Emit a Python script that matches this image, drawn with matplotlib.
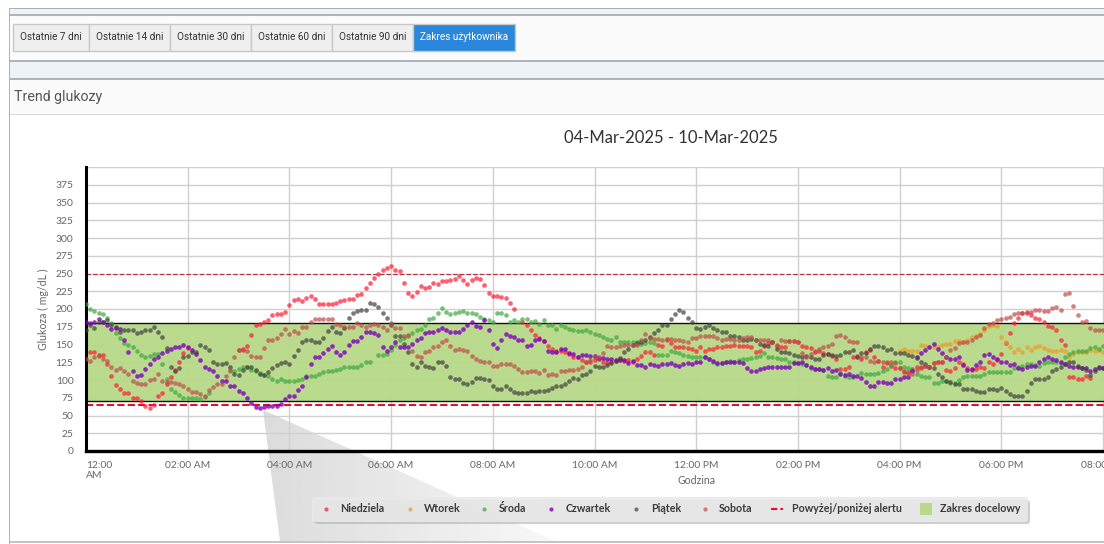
import numpy as np
import matplotlib
matplotlib.use('Agg')
import matplotlib.pyplot as plt
from matplotlib.patches import Rectangle, Polygon, FancyBboxPatch

nan = float('nan')

# glucose readings, 5 minute steps from midnight, one line per hour
niedziela = [
    nan, 140, 140, 135, 135, 122, 106, 93, 88, 81, 81, 74,
    74, 70, 64, 60, 65, 78, 81, 94, 104, 114, 125, 138,
    145, nan, nan, nan, nan, nan, nan, nan, nan, nan, nan, nan,
    142, 143, 148, 163, 177, 179, 182, 185, 192, 193, 193, 196,
    205, 213, 214, 211, 216, 219, 214, 207, 207, 207, 207, 208,
    211, 212, 214, 214, 220, 221, 230, 237, 244, 250, 255, 258,
    261, 255, 253, 236, 222, 219, 224, 233, 230, 231, 236, 235,
    240, 240, 241, 242, 247, 241, 235, 241, 243, 242, 234, 223,
    219, 219, 217, 215, 209, 200, nan, 182, 177, 171, 163, 159,
    155, 148, 144, 141, 141, 139, 137, 133, 132, 128, 125, 126,
    128, 130, 125, 124, 125, 127, 130, 127, 128, 126, 130, 134,
    140, 140, 135, 149, 148, 158, 152, 147, 146, 146, 145, 144,
    141, 147, 141, 144, 144, 146, 146, 148, 148, 149, 148, 148,
    148, 147, 140, 141, 148, 152, 153, 148, 147, 147, 155, 155,
    153, 148, 147, 145, 140, 141, 138, 136, 134, 130, 116, 115,
    119, 132, 134, 129, 139, 142, 132, 127, 119, 124, 120, 117,
    117, 111, 111, 116, 118, 119, 120, 118, 124, 125, 125, 114,
    113, 117, 125, 123, 117, 114, 115, 118, 117, 125, 123, 128,
    136, 152, 166, 180, 187, 194, 194, 192, 188, 186, 182, 176,
    175, 170, 156, 149, 104, 104, 102, 101, 105, 103, nan, nan,
    nan]

wtorek = [nan] * 192 + [
    141, 144, 141, 141, 141, 149, 148, 146, 146, 146, 149, 151,
    151, 155, 155, 154, 157, 161, 162, 165, 171, 176, 178, 176,
    160, 154, 146, 139, 143, 140, 146, 142, 147, 148, 145, 142,
    141, 141, 142, 141, 133, 137, 140, 140, 139, 142, 141, 142,
    140]

sroda = [
    207, 200, 197, 194, 193, 187, 180, 166, 159, 152, 150, 146,
    141, 135, 132, 134, 137, 137, 123, 102, 88, 83, 79, 74,
    74, 74, 74, 73, 76, 81, nan, nan, nan, nan, 112, 113,
    116, 118, 119, 114, 112, 110, 107, 105, 101, 99, 101, 99,
    99, 99, 100, 101, 105, 105, 106, 108, 111, 112, 112, 114,
    116, 119, 119, 118, 119, 121, 126, 126, nan, 135, 135, 137,
    142, 149, 156, 159, 162, 166, 171, 172, 178, 186, 187, 195,
    201, 196, 193, 195, 196, 197, 194, 195, 193, 189, 186, 185,
    181, 195, 194, 192, 182, 185, 182, 186, 186, 181, 183, 179,
    184, 178, 178, 172, 178, 174, 172, 171, 169, 169, 170, 168,
    165, 163, 161, 158, 156, 160, 154, 153, 153, 153, 153, 151,
    152, 153, 152, 135, 135, 135, 141, 139, 138, 135, 134, 133,
    132, 132, 133, 130, 125, 123, 124, 126, 127, 126, 128, 129,
    129, 131, 132, 134, 138, 133, 132, 131, 130, 129, 125, 125,
    124, 123, 121, 117, 116, 116, 114, 105, 104, 104, 110, 106,
    104, 104, nan, 110, 109, 108, 109, 110, 113, 115, 121, 125,
    126, 119, 117, 114, 109, 106, 104, 104, 96, 96, 98, 98,
    96, 96, 100, 104, 106, 105, 105, 105, 109, 111, 111, 111,
    111, 111, 111, 117, 118, 120, 123, 123, 121, 120, 124, 125,
    125, 126, 124, 133, 136, 139, 141, 141, 141, 145, 147, 144,
    148]

czwartek = [
    182, 180, 181, 186, 182, 178, 172, 173, 172, 156, 140, 113,
    106, 107, 115, 122, 130, 133, 138, 141, 144, 146, 146, 149,
    147, 142, 136, 128, 119, 116, 112, 105, 99, 98, 92, 92,
    84, 81, 74, 67, 62, 60, 62, 64, 63, 64, 66, 73,
    77, 78, 86, 92, 104, 123, 132, 133, 138, 144, 148, 140,
    135, 140, 150, 155, 155, 161, 167, 168, 166, 163, 147, 141,
    146, 153, 146, 146, 147, 151, 156, 159, 166, 167, 168, 171,
    173, 171, 168, 168, 168, 172, 178, 181, 176, 175, 185, 171,
    151, 145, 156, 165, 162, 161, 156, 156, 148, 150, 156, 158,
    155, 141, 140, 140, 143, 143, 138, 137, 133, 135, 135, 134,
    134, 131, 131, 130, 130, 128, 128, 128, 124, 127, 121, 121,
    119, 122, 121, 120, 122, 122, 124, 121, 120, 123, 124, 123,
    126, 126, 132, 130, 127, 124, 124, 125, 126, 125, 125, 124,
    117, 113, 113, 116, 117, 119, 119, 119, 119, 119, 119, 124,
    124, 125, 121, 118, 116, 116, 114, 117, 113, 114, 109, 107,
    109, 105, 105, 103, 97, 91, 91, 97, 97, 96, 96, 102,
    102, 104, 104, 112, 133, 138, 142, 147, 151, 144, 138, 133,
    130, 129, 132, 121, 114, 115, 121, 126, 135, 137, 133, 129,
    126, 125, 121, 122, 117, 115, 119, 120, 120, 126, 129, 132,
    129, 128, 126, 122, 120, 119, 118, 117, 117, 112, 115, 118,
    117]

piatek = [
    171, 177, 173, 181, 182, 184, 178, 174, 168, 171, 171, 171,
    166, 168, 170, 171, 175, 167, 160, 145, 119, 113, 117, 133,
    134, 140, 140, 150, 146, 142, 125, 123, 122, 124, 118, 109,
    107, 114, 119, 118, 114, 109, 107, 111, 117, 121, 124, 125,
    122, 134, 142, 154, 156, 156, 153, 153, 159, 169, 174, 167,
    166, 173, 188, 194, 197, 199, 199, 208, 207, 203, 194, 188,
    178, 162, 162, 151, 140, 123, 119, 125, 120, 118, 117, 125,
    125, 120, 104, 102, 102, 96, 94, 97, 103, 103, 102, 100,
    91, 88, 88, 91, 87, 83, 81, 81, 81, 84, 83, 84,
    84, 86, 89, 92, 91, 94, 99, 103, 102, 107, 109, 113,
    120, 118, 119, 121, 124, 127, 131, 139, 144, 149, 152, 154,
    157, 161, 166, 171, 177, 178, 186, 193, 199, 196, 187, 181,
    173, 172, 174, 178, 173, 170, 167, 167, 162, 162, 160, 156,
    157, 158, 157, 151, 150, 148, 153, 143, 140, 139, 138, 135,
    134, 132, 134, 132, 130, 130, 135, 136, 135, 134, 135, 139,
    139, 142, 133, 138, 138, 144, 148, 148, 146, 142, 143, 138,
    138, 138, 135, 134, 131, 126, 123, 119, 117, 109, 104, 99,
    97, 94, 94, 88, 88, 88, 84, 83, 83, 88, 87, 86,
    89, 84, 80, 77, 78, 77, 85, 96, 101, 101, 101, 104,
    112, 116, 119, 122, 126, 125, 120, 117, 114, 107, 113, 117,
    117]

sobota = [
    130, 127, 132, 134, 130, 127, 119, 114, 117, 113, 109, 98,
    96, 95, 94, 100, 102, 108, 99, 97, 97, 96, 94, 92,
    87, 83, 83, 80, 77, 86, 90, 94, 95, 105, 114, 132,
    142, 142, 141, 134, 132, 133, 145, 156, 156, 159, 165, 172,
    165, 169, 166, 174, 174, 181, 186, 186, 186, 186, 186, 179,
    178, 174, 175, 175, 180, 178, 175, 178, 179, 178, 175, 171,
    180, 173, 173, 162, 163, 141, 134, 133, 140, 141, 146, 148,
    153, 156, 148, 142, 144, 142, 141, 134, 130, 127, 125, 125,
    120, 120, 122, 122, 122, 120, 116, 111, 111, 112, 112, 110,
    114, 107, 108, 107, 112, 112, 114, 114, 116, 119, 125, 128,
    132, 133, 138, 148, 147, 146, 148, 149, 149, 149, 149, 156,
    165, 159, 158, 158, 156, 156, 158, 156, 156, 155, 154, 159,
    159, 162, 162, 162, 162, 159, 156, 158, 158, 156, 156, 159,
    160, 160, 156, 156, 157, 157, 154, 150, 156, 155, 155, 155,
    154, 138, 133, 136, 141, 143, 146, 148, 151, 162, 164, 160,
    155, 153, 153, 133, 133, 127, 126, 127, 125, 125, 125, 124,
    117, 112, 109, 109, 114, 117, 120, 119, 124, 126, 126, 133,
    142, 145, 152, 154, 154, 156, 160, 164, 173, 179, 180, 184,
    186, 187, 189, 193, 194, 195, 196, 196, 198, 198, 197, 197,
    201, 203, 199, 221, 222, 204, 192, 182, 183, 173, 170, 170,
    170]

dni = ['Niedziela', 'Wtorek', 'Środa', 'Czwartek', 'Piątek', 'Sobota']
serie = [niedziela, wtorek, sroda, czwartek, piatek, sobota]
kolory = ['#ff1a30', '#ee9a20', '#3da83d', '#8000c0', '#404040', '#c04a4a']
alfy = [0.7, 0.7, 0.7, 0.8, 0.7, 0.7]

przyciski = ['Ostatnie 7 dni', 'Ostatnie 14 dni', 'Ostatnie 30 dni',
             'Ostatnie 60 dni', 'Ostatnie 90 dni', 'Zakres użytkownika']
godziny_ticks = list(range(0, 21, 2))
godziny_labels = ['12:00\nAM', '02:00 AM', '04:00 AM', '06:00 AM', '08:00 AM', '10:00 AM',
                  '12:00 PM', '02:00 PM', '04:00 PM', '06:00 PM', '08:00 PM']
glukoza_ticks = list(range(0, 376, 25))
zakres = (70, 180)
alerty = (65, 250)

W, H = 1104, 544
fig = plt.figure(figsize=(W / 100, H / 100), dpi=100, facecolor='white')

# page around the chart, in pixels
bg = fig.add_axes([0, 0, 1, 1])
bg.axis('off')


def pasek(x0, y0, x1, y1, kolor, zorder=1):
    bg.add_patch(Rectangle((x0, y0), x1 - x0, y1 - y0, fc=kolor, ec='none', zorder=zorder))


pasek(9, 8, W, 9, '#a8b0b4')
pasek(9, 9, W, 14, '#edf3f6')
pasek(9, 14, W, 16, '#b0b4b6')
pasek(9, 16, W, 60, '#fbfbfb')
pasek(9, 60, W, 62, '#b0b4b6')
pasek(9, 62, W, 78, '#edf3f6')
pasek(9, 78, W, 80, '#b0b4b6')
pasek(9, 80, W, 114, '#fbfbfb')
pasek(9, 114, W, 115, '#d8d8d8')
pasek(9, 8, 10, 544, '#b0b4b6', zorder=2)
pasek(10, 541, W, 543, '#c4c4c4')

kraw = [13, 89, 170, 251, 332, 413, 515]
for i, nazwa in enumerate(przyciski):
    aktywny = i == len(przyciski) - 1
    bg.add_patch(Rectangle((kraw[i], 24), kraw[i + 1] - kraw[i], 27,
                           fc='#2a87dc' if aktywny else '#efefef', ec='#c8c8c8', lw=1))
    bg.text((kraw[i] + kraw[i + 1]) / 2, 37.5, nazwa, ha='center', va='center', family='Roboto',
            fontsize=7.2, color='white' if aktywny else '#333333')
bg.text(14, 96.5, 'Trend glukozy', ha='left', va='center', family='Roboto', fontsize=10.2, color='#555555')

# shadow wedge under the tooltip
klin = Polygon([(263, 410), (280, 541), (555, 541)], closed=True, fc='none', ec='none')
bg.add_patch(klin)
grad = np.linspace(0.86, 0.97, 256).reshape(1, -1)
im = bg.imshow(grad, extent=(263, 555, 541, 410), cmap='gray', vmin=0, vmax=1, aspect='auto', zorder=1.5)
im.set_clip_path(klin)
bg.set_xlim(0, W)
bg.set_ylim(H, 0)

# legend box
bg.add_patch(FancyBboxPatch((314, 500), 716, 24, boxstyle='round,pad=0,rounding_size=3',
                            fc='#b0b0b0', ec='none', alpha=0.6, zorder=3))
bg.add_patch(FancyBboxPatch((312, 497), 716, 25, boxstyle='round,pad=0,rounding_size=3',
                            fc='#e9e9e9', ec='none', alpha=0.9, zorder=3))
leg_dot = [326, 410, 484, 551, 636, 705]
leg_txt = [340, 424, 499, 566, 651, 719]
for i, d in enumerate(dni):
    bg.scatter([leg_dot[i]], [509], s=9, color=kolory[i], alpha=alfy[i], linewidths=0, zorder=4)
    bg.text(leg_txt[i], 509, d, ha='left', va='center', family='Lato', fontsize=7.7, fontweight='bold',
            color='#3a3a3a', zorder=4)
bg.plot([771, 783], [509, 509], color='#e0102f', lw=1.5, ls=(0, (3, 1.5)), zorder=4)
bg.text(792, 509, 'Powyżej/poniżej alertu', ha='left', va='center', family='Lato', fontsize=7.7,
        fontweight='bold', color='#3a3a3a', zorder=4)
bg.add_patch(Rectangle((920, 503), 12, 12, fc='#b8d98a', ec='none', zorder=4))
bg.text(940, 509, 'Zakres docelowy', ha='left', va='center', family='Lato', fontsize=7.7,
        fontweight='bold', color='#3a3a3a', zorder=4)

bg.text(671, 138, '04-Mar-2025 - 10-Mar-2025', ha='center', va='center', family='Lato',
        fontsize=12, color='#333333')

# the chart
ax = fig.add_axes([86 / W, 1 - 451 / H, (W - 86) / W, (451 - 167) / H])
ax.patch.set_alpha(0)
ax.set_xlim(0, (W - 86) / 50.85)
ax.set_ylim(0, 400)

ax.set_yticks(glukoza_ticks)
ax.set_xticks(godziny_ticks)
ax.set_xticklabels(godziny_labels)
ax.xaxis.get_majorticklabels()[0].set_ha('left')
ax.tick_params(length=0, labelsize=7.4, labelcolor='#666666', pad=7)
for t in ax.get_xticklabels() + ax.get_yticklabels():
    t.set_family('Lato')
ax.tick_params(axis='y', pad=9)
ax.grid(True, color='#d0d0d0', lw=1)
ax.axhline(400, color='#d0d0d0', lw=1, zorder=1)
ax.set_axisbelow(True)
ax.set_xlabel('Godzina', family='Lato', fontsize=7.6, color='#666666')
ax.xaxis.set_label_coords((696 - 86) / (W - 86), -0.0845)
ax.set_ylabel('Glukoza ( mg/dL )', family='Lato', fontsize=7.6, color='#666666')
ax.yaxis.set_label_coords(-0.0364, 0.5)

for s in ['top', 'right']:
    ax.spines[s].set_visible(False)
ax.spines['left'].set_linewidth(2.2)
ax.spines['bottom'].set_linewidth(2.4)

ax.axhspan(zakres[0], zakres[1], fc='#b8d98a', ec='none', alpha=0.97, zorder=1.5)
for g in zakres:
    ax.axhline(g, color='#111111', lw=1, zorder=1.6)
ax.axhline(alerty[1], color='#b03040', lw=0.8, ls=(0, (4, 2)), zorder=1.7)
ax.axhline(alerty[0], color='#e0102f', lw=1.5, ls=(0, (3.5, 1.5)), zorder=1.7)

for wart, kol, a in zip(serie, kolory, alfy):
    x = np.arange(len(wart)) * 5 / 60
    ax.scatter(x, wart, s=11, color=kol, alpha=a, linewidths=0, zorder=3)

fig.savefig('out.png', dpi=100)
